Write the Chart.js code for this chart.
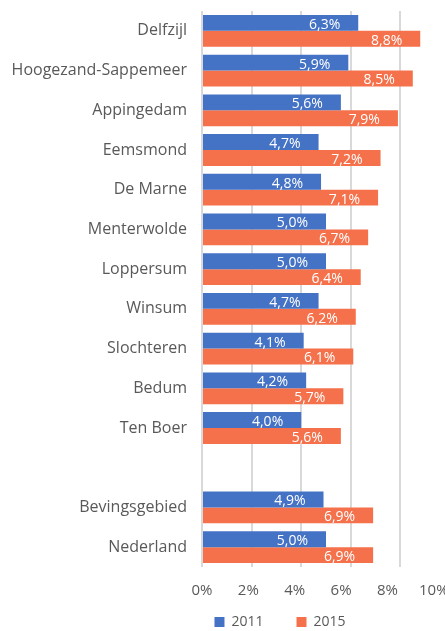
<!DOCTYPE html>
<html><head><meta charset="utf-8">
<script src="https://cdn.jsdelivr.net/npm/chart.js@4"></script>
<style>
html,body{margin:0;padding:0;width:445px;height:631px;overflow:hidden;background:#fff;}
#wrap{width:450px;height:664px;}
</style></head>
<body><div id="wrap"><canvas id="c" width="450" height="664"></canvas></div>
<script>
const categories = ['Delfzijl', 'Hoogezand-Sappemeer', 'Appingedam', 'Eemsmond', 'De Marne', 'Menterwolde', 'Loppersum', 'Winsum', 'Slochteren', 'Bedum', 'Ten Boer', '', 'Bevingsgebied', 'Nederland'];
const values2011 = [6.3, 5.9, 5.6, 4.7, 4.8, 5.0, 5.0, 4.7, 4.1, 4.2, 4.0, null, 4.9, 5.0];
const values2015 = [8.8, 8.5, 7.9, 7.2, 7.1, 6.7, 6.4, 6.2, 6.1, 5.7, 5.6, null, 6.9, 6.9];
const seriesNames = ['2011', '2015'];
const tickValues = [0, 2, 4, 6, 8, 10];

const FONT = "'Open Sans', sans-serif";
const fmt = v => v.toFixed(1).replace('.', ',') + '%';

const barLabels = {
  id: 'barLabels',
  afterDatasetsDraw(chart) {
    const ctx = chart.ctx;
    ctx.save();
    ctx.font = "14px " + FONT;
    ctx.fillStyle = '#ffffff';
    ctx.textAlign = 'right';
    ctx.textBaseline = 'middle';
    chart.data.datasets.forEach((ds, i) => {
      chart.getDatasetMeta(i).data.forEach((el, j) => {
        const v = ds.data[j];
        if (v == null) return;
        ctx.fillText(fmt(v), el.x - 18, el.y + 2);
      });
    });
    ctx.restore();
  }
};

// shift the legend box to where the reference has it
const legendPlace = {
  id: 'legendPlace',
  afterLayout(chart) {
    const L = chart.legend;
    if (!L) return;
    const dx = 55, dy = 582 - L.top;
    L.left += dx; L.right += dx;
    L.top += dy; L.bottom += dy;
  }
};

new Chart(document.getElementById('c'), {
  type: 'bar',
  data: {
    labels: categories,
    datasets: [
      { label: seriesNames[0], data: values2011, backgroundColor: '#4472C4', categoryPercentage: 0.8, barPercentage: 1.0 },
      { label: seriesNames[1], data: values2015, backgroundColor: '#F4714B', categoryPercentage: 0.8, barPercentage: 1.0 }
    ]
  },
  options: {
    indexAxis: 'y',
    responsive: false,
    animation: false,
    layout: { padding: { top: 11, left: 0, right: 0, bottom: 0 } },
    plugins: {
      tooltip: { enabled: false },
      legend: {
        position: 'bottom',
        maxHeight: 60,
        labels: {
          font: { family: FONT, size: 14 },
          color: '#595959',
          boxWidth: 10, boxHeight: 10,
          padding: 33
        }
      }
    },
    scales: {
      y: {
        grid: { display: false },
        border: { display: false },
        ticks: { font: { family: FONT, size: 16 }, color: '#595959', padding: 7, autoSkip: false },
        afterFit: s => { s.width = 202; s.paddingTop = 0; s.paddingBottom = 0; }
      },
      x: {
        min: 0, max: 10,
        grid: { color: '#d9d9d9', lineWidth: 2, drawTicks: false },
        border: { display: false },
        ticks: { display: false, stepSize: 2 },
        afterFit: s => { s.height = 0; s.paddingLeft = 0; s.paddingRight = 0; }
      },
      xl: {
        axis: 'x',
        type: 'linear',
        position: 'bottom',
        display: true,
        min: 0, max: 10.7,
        grid: { display: false, drawTicks: false },
        border: { display: false },
        afterBuildTicks: s => { s.ticks = tickValues.map(v => ({ value: v })); },
        ticks: { font: { family: FONT, size: 15 }, color: '#595959', padding: 15, maxRotation: 0, autoSkip: false, callback: v => v + '%' },
        afterFit: s => { s.height = 40; s.paddingLeft = 0; s.paddingRight = 0; }
      }
    }
  },
  plugins: [barLabels, legendPlace]
});
</script>
</body></html>
